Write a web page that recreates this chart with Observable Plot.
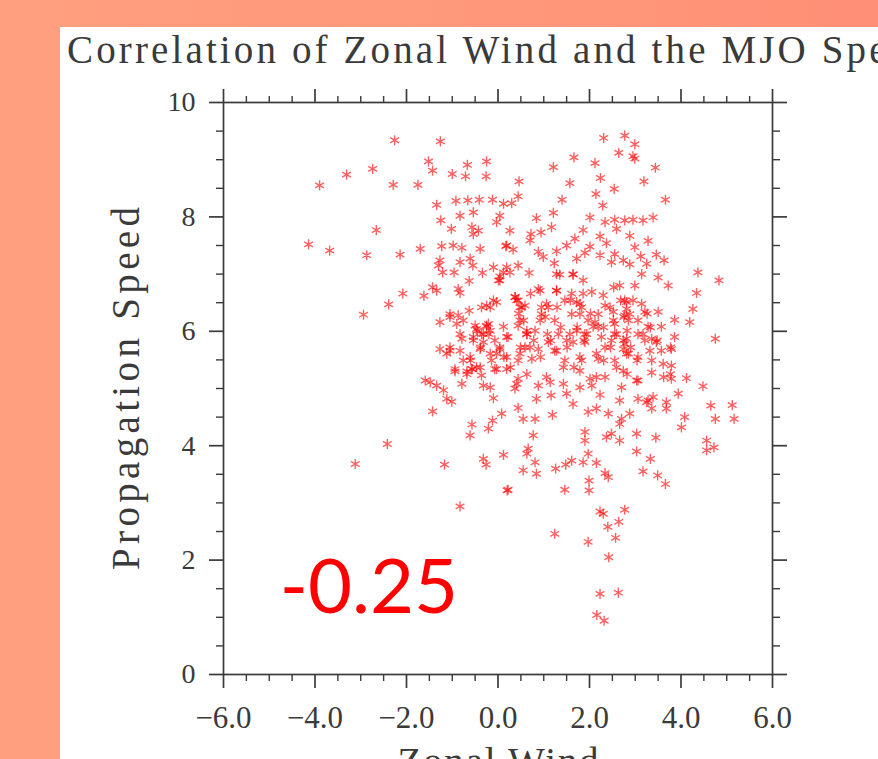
<!DOCTYPE html>
<html><head><meta charset="utf-8">
<script src="https://cdn.jsdelivr.net/npm/d3@7"></script>
<script src="https://cdn.jsdelivr.net/npm/@observablehq/plot@0.6"></script>
<style>
html,body{margin:0;padding:0;width:878px;height:759px;overflow:hidden;}
body{background:linear-gradient(to right,#ff9f7f 0%,#ff997b 50%,#ff8f76 100%);position:relative;}
#panel{position:absolute;left:60px;top:27px;width:818px;height:732px;background:#fff;}
#title{position:absolute;left:67px;top:30px;font-family:"Liberation Serif",serif;font-size:39px;line-height:1;color:#3a3a3a;white-space:nowrap;}
#chart{position:absolute;left:60px;top:27px;}
</style></head>
<body>
<div id="panel"></div>
<div id="title">Correlation of Zonal Wind and the MJO Speed</div>
<div id="chart"></div>
<script>
const zonalWind = [
 -2.26,-1.26,-1.52,-1.43,-0.67,-0.25,-2.74,-3.31,-3.90,-2.29,
 -1.75,-1.00,-0.71,-0.26,-1.34,-0.92,-0.66,-0.41,-0.12,0.12,
 -0.83,-0.54,0.04,-1.25,-1.02,-0.57,-0.43,-0.54,-0.03,-2.66,
 -4.14,-3.68,-2.87,-2.14,-1.70,-1.23,-0.98,-0.79,-0.39,0.17,
 -1.27,-1.30,-0.61,-0.83,-0.55,-1.21,-0.96,-0.34,-0.10,0.12,
 -0.63,0.01,-1.43,-1.34,-0.87,-0.83,-2.08,-1.62,-2.39,-2.94,
 -0.63,-0.36,-0.25,-0.03,-1.27,-1.05,-0.87,-0.90,-0.50,-0.25,
 -0.36,-0.17,0.19,-0.79,-0.54,-1.27,-1.05,-0.83,-0.39,0.04,
 -0.61,-0.14,-0.94,-0.57,-0.03,-1.05,-0.76,-0.47,-0.21,0.12,
 -0.32,-0.07,-0.17,0.19,-0.76,-1.12,-0.47,0.19,0.04,-0.17,
 2.31,2.77,2.99,2.64,2.95,2.99,1.66,2.12,1.21,3.44,
 0.46,1.57,2.24,3.19,2.54,0.44,0.30,1.40,2.14,2.29,
 3.66,1.21,0.84,2.01,2.34,2.55,2.77,2.95,3.17,3.39,
 1.17,0.94,0.72,0.26,1.86,2.59,2.88,2.23,3.28,1.68,
 0.70,2.37,1.50,0.19,0.33,2.01,2.99,0.88,1.28,1.90,
 2.55,3.46,0.99,1.72,2.23,3.12,2.48,2.74,3.63,1.23,
 2.88,3.25,0.44,0.26,0.68,1.35,1.64,3.14,1.86,3.50,
 4.37,4.83,3.72,0.88,1.28,2.66,2.99,4.34,0.44,1.61,
 2.05,1.79,2.30,2.81,3.14,0.52,1.10,4.26,3.50,3.86,
 4.19,0.95,2.52,2.77,3.21,0.48,2.12,3.57,0.22,0.63,
 1.32,1.72,2.19,2.55,2.81,3.06,3.36,3.86,4.75,0.88,
 1.24,1.64,1.90,2.34,2.77,3.46,3.79,0.44,0.74,1.46,
 1.83,2.19,2.55,3.06,3.36,3.79,0.37,0.59,0.95,1.03,
 1.24,1.46,1.61,1.83,1.97,2.19,2.77,2.81,2.85,2.55,
 2.48,2.74,2.85,2.26,1.90,1.50,1.10,0.59,3.06,3.28,
 3.21,3.57,2.34,0.44,0.81,
 -1.59,-1.48,-1.34,-1.19,-1.12,-1.01,-0.94,-0.79,-0.68,-0.57,
 -0.36,-0.32,-0.17,-0.10,-0.07,-1.43,-0.57,-0.61,-0.21,-0.12,
 0.08,-2.42,-3.12,-1.17,-0.32,-0.26,0.12,0.20,-0.83,
 0.44,0.37,0.88,1.14,1.43,1.50,1.64,1.16,0.84,0.44,
 0.55,0.81,1.19,1.97,2.15,1.79,2.01,2.05,2.34,2.23,
 2.70,2.74,2.66,2.41,2.70,2.88,3.06,3.06,3.25,3.36,
 3.68,3.68,3.79,3.94,4.12,4.48,4.08,4.01,4.65,4.75,
 5.12,5.16,4.56,4.56,4.72,1.90,1.90,2.37,2.48,2.66,
 2.66,3.03,3.03,3.45,3.33,3.17,3.49,3.66,0.77,0.66,
 0.63,0.81,0.55,0.84,1.26,1.48,1.61,1.86,1.97,2.15,
 2.34,2.41,1.99,1.99,1.46,0.22,2.23,2.30,2.77,2.64,
 2.40,2.57,1.24,1.97,2.42,2.23,2.63,2.16,2.32,3.36,
 3.28,3.39,
 0.41,0.48,0.63,0.70,0.48,0.41,0.92,1.28,1.06,0.92,
 1.72,1.86,1.79,1.57,1.94,2.08,1.28,1.43,1.79,2.15,
 2.45,2.52,2.59,2.74,2.81,2.59,2.88,2.95,3.17,3.32,
 3.61,3.03,2.15,1.79,1.06,-0.32,-0.25,-0.54,-0.83,-1.05,
 -0.03,0.04,-0.39,-0.68,-0.10,0.04,1.28,1.64,0.19,
 0.38,0.45,0.56,0.63,0.78,-0.45,-0.20,-0.38,-0.60,0.13,
 0.27,0.63,0.93,1.15,1.37,1.51,1.66,1.88,2.02,2.31,
 2.46,2.31,2.53,2.68,2.75,2.82,2.90,3.04,2.82,3.26,
 3.33,3.48,3.62,3.77,3.77,1.29,1.58,0.71,1.08,0.49,
 1.73
];
const propagationSpeed = [
 9.34,9.32,8.97,8.81,8.91,8.97,8.84,8.74,8.55,8.56,
 8.56,8.75,8.71,8.71,8.21,8.28,8.29,8.30,8.30,8.23,
 8.02,8.08,8.02,7.94,7.79,7.82,7.76,7.70,7.91,7.77,
 7.52,7.41,7.33,7.34,7.44,7.49,7.50,7.46,7.44,7.49,
 7.24,7.15,7.27,7.21,7.15,7.03,7.03,7.02,7.12,7.03,
 6.88,6.89,6.77,6.71,6.74,6.67,6.66,6.62,6.47,6.29,
 6.36,6.42,6.45,6.51,6.16,6.25,6.28,6.13,6.10,6.10,
 5.95,6.01,5.90,5.87,5.90,5.69,5.66,5.66,5.69,5.69,
 5.55,5.49,5.34,5.34,5.34,6.30,6.19,6.04,6.13,6.08,
 5.81,5.84,5.61,5.55,5.49,5.61,5.37,5.34,6.96,6.42,
 9.38,9.42,9.27,9.12,9.06,9.02,9.04,8.94,8.87,8.86,
 8.62,8.59,8.68,8.62,8.49,8.36,8.24,8.30,8.40,8.20,
 8.30,8.07,7.98,7.99,7.91,7.95,7.94,7.95,7.94,7.99,
 7.82,7.73,7.70,7.76,7.77,7.79,7.67,7.66,7.58,7.62,
 7.59,7.54,7.50,7.50,7.43,7.48,7.47,7.39,7.40,7.37,
 7.35,7.34,7.30,7.27,7.33,7.31,7.21,7.24,7.24,7.19,
 7.17,7.18,7.15,7.03,7.02,6.99,6.99,7.00,6.89,6.94,
 7.03,6.89,6.80,6.74,6.71,6.80,6.80,6.67,6.54,6.66,
 6.69,6.48,6.63,6.51,6.48,6.42,6.42,6.39,6.34,6.20,
 6.16,6.30,6.34,6.28,6.34,6.19,6.16,6.08,5.90,5.95,
 5.95,6.01,6.08,5.95,5.87,5.95,5.87,5.90,5.87,5.69,
 5.66,5.81,5.81,5.72,5.78,5.81,5.69,5.49,5.52,5.49,
 5.49,5.52,5.49,5.55,5.49,5.40,6.60,6.45,6.42,6.25,
 6.19,6.54,6.30,6.42,6.19,6.30,6.54,6.39,6.19,6.13,
 5.84,5.69,5.61,5.90,5.95,5.84,5.81,5.72,6.19,6.08,
 5.84,5.66,6.45,6.10,6.01,
 5.14,5.11,5.05,4.97,4.82,4.77,5.30,5.08,5.30,5.34,
 5.23,5.05,5.02,4.83,5.34,4.60,4.37,4.18,4.30,4.44,
 4.56,4.03,3.68,3.67,3.77,3.67,3.84,3.22,2.94,
 5.17,5.00,5.05,5.11,5.08,4.91,4.73,4.88,4.82,4.66,
 4.47,4.47,4.54,4.59,4.65,5.31,5.17,5.05,5.20,4.89,
 5.02,5.31,4.79,4.56,4.47,4.56,5.14,4.82,4.76,4.65,
 4.76,4.65,5.17,4.91,5.18,5.04,4.50,4.32,4.70,4.47,
 4.71,4.47,4.09,3.92,3.97,4.24,4.09,4.15,4.21,4.38,
 4.09,4.21,3.90,4.14,3.77,3.55,3.48,3.33,4.18,3.95,
 3.86,3.71,3.57,3.51,3.60,3.67,3.74,3.71,3.86,3.70,
 3.52,3.45,3.39,3.22,3.23,3.23,2.85,2.81,2.88,2.67,
 2.58,2.39,2.46,2.32,2.05,1.41,1.43,1.04,0.94,5.28,
 4.79,4.85,
 6.54,6.42,5.95,5.72,5.61,5.08,6.71,6.71,6.48,6.19,
 6.51,6.66,6.30,5.95,5.95,6.08,5.66,5.37,5.55,5.61,
 6.42,6.19,5.95,5.84,5.61,5.37,6.30,6.54,5.95,5.66,
 5.43,5.14,5.20,5.02,5.20,5.95,6.08,5.84,5.95,5.72,
 5.61,5.72,5.37,5.25,6.54,6.89,7.00,7.00,7.12,
 6.60,6.31,6.19,6.01,5.84,6.01,5.95,5.72,5.49,5.55,
 5.37,5.25,5.55,5.84,6.07,5.72,5.37,5.84,6.31,6.07,
 5.72,5.49,6.77,6.54,6.25,6.01,5.72,5.49,5.25,6.31,
 6.07,5.84,5.20,5.25,5.72,6.42,6.54,6.66,5.95,5.72,
 6.07
];
const xMajorTicks = [-6, -4, -2, 0, 2, 4, 6];
const xMinorTicks = [-5.5, -5, -4.5, -3.5, -3, -2.5, -1.5, -1, -0.5, 0.5, 1, 1.5, 2.5, 3, 3.5, 4.5, 5, 5.5];
const yMajorTicks = [0, 2, 4, 6, 8, 10];
const yMinorTicks = [0.5, 1, 1.5, 2.5, 3, 3.5, 4.5, 5, 5.5, 6.5, 7, 7.5, 8.5, 9, 9.5];
const xLabel = "Zonal Wind";
const yLabel = "Propagation Speed";
const correlation = "-0.25";

const data = zonalWind.map((x, i) => ({x, y: propagationSpeed[i]}));
const axisColor = "#3a3a3a";
const blank = () => "";

const plot = Plot.plot({
  width: 818, height: 732,
  marginLeft: 163, marginRight: 106, marginTop: 75, marginBottom: 85,
  style: {background: "transparent", fontFamily: "'Liberation Serif', serif", color: axisColor, overflow: "visible"},
  x: {domain: [-6, 6]},
  y: {domain: [0, 10]},
  marks: [
    Plot.dot(data, {x: "x", y: "y", symbol: "asterisk", r: 4.8, stroke: "#ff0000", strokeOpacity: 0.62, strokeWidth: 1.4}),
    Plot.text([correlation], {x: [-2.82], y: [1.08], text: d => d, fill: "#ff0000", fontFamily: "Lato, 'Open Sans', sans-serif", fontSize: 76, textAnchor: "middle", lineAnchor: "bottom"}),
    Plot.frame({stroke: axisColor, strokeWidth: 1.7}),
    Plot.axisX({ticks: xMinorTicks, anchor: "bottom", tickSize: 7, tickFormat: blank, label: null, strokeWidth: 1.4}),
    Plot.axisX({ticks: xMinorTicks, anchor: "top", tickSize: 7, tickFormat: blank, label: null, strokeWidth: 1.4}),
    Plot.axisX({ticks: xMajorTicks, anchor: "top", tickSize: 14, tickFormat: blank, label: null, strokeWidth: 1.7}),
    Plot.axisX({ticks: xMajorTicks, anchor: "bottom", tickSize: 14, tickPadding: 17, tickFormat: d3.format(".1f"), fontSize: 31, strokeWidth: 1.7,
      label: xLabel, labelAnchor: "center", labelOffset: 100, labelArrow: false}),
    Plot.axisY({ticks: yMinorTicks, anchor: "left", tickSize: 7, tickFormat: blank, label: null, strokeWidth: 1.4}),
    Plot.axisY({ticks: yMinorTicks, anchor: "right", tickSize: 7, tickFormat: blank, label: null, strokeWidth: 1.4}),
    Plot.axisY({ticks: yMajorTicks, anchor: "right", tickSize: 14, tickFormat: blank, label: null, strokeWidth: 1.7}),
    Plot.axisY({ticks: yMajorTicks, anchor: "left", tickSize: 14, tickPadding: 14, tickFormat: d3.format("d"), fontSize: 28, strokeWidth: 1.7,
      label: yLabel, labelAnchor: "center", labelOffset: 112, labelArrow: false})
  ]
});

document.getElementById("chart").appendChild(plot);

function fitText(selector, fontSize, length) {
  plot.querySelectorAll(selector).forEach(t => {
    t.style.fontSize = fontSize + "px";
    t.setAttribute("textLength", length);
    t.setAttribute("lengthAdjust", "spacing");
  });
}
fitText('[aria-label="x-axis label"] text', 39, 201);
fitText('[aria-label="y-axis label"] text', 39, 363);

// spread the title letters like the reference's wide-pitch lettering
const title = document.getElementById("title");
const ctx = document.createElement("canvas").getContext("2d");
ctx.font = "39px 'Liberation Serif'";
const full = title.textContent;
const wFull = ctx.measureText(full).width;
title.style.letterSpacing = ((full.length * 20.15 - wFull) / full.length) + "px";
</script>
</body></html>
